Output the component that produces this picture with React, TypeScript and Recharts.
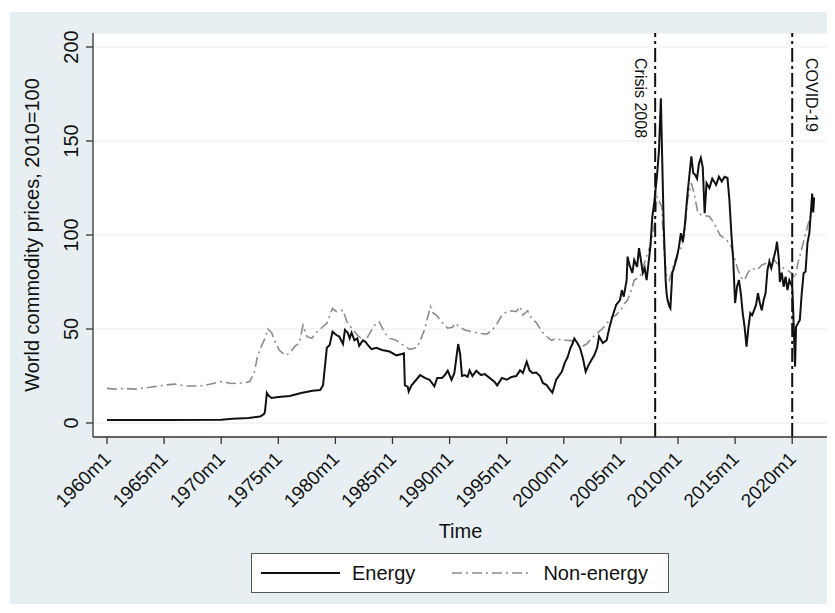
import { LineChart, Line, XAxis, YAxis, CartesianGrid, ReferenceLine, Legend } from "recharts";

const FONT = '"Liberation Sans", Arial, Helvetica, sans-serif';
const INK = "#111";
const PANEL = "#e8eff2";

const xTickLabels = [
  "1960m1", "1965m1", "1970m1", "1975m1", "1980m1", "1985m1", "1990m1",
  "1995m1", "2000m1", "2005m1", "2010m1", "2015m1", "2020m1",
];
const yTicks = [0, 50, 100, 150, 200];

const events: [string, string][] = [
  ["2008m1", "Crisis 2008"],
  ["2020m1", "COVID-19"],
];

// World Bank commodity price indices, 2010=100
const energy: [string, number][] = [
  ["1960m1", 1.6], ["1965m1", 1.6], ["1970m1", 1.7], ["1971m1", 2.2], ["1972m6", 2.7],
  ["1973m6", 3.5], ["1973m10", 4.8], ["1973m11", 6], ["1974m1", 16], ["1974m3", 14.5],
  ["1974m6", 13.3], ["1975m1", 13.8], ["1976m1", 14.4], ["1977m1", 16], ["1978m1", 17.2],
  ["1978m9", 17.5], ["1978m12", 20], ["1979m4", 40], ["1979m7", 41.5], ["1979m10", 48.6],
  ["1980m2", 46.8], ["1980m5", 46], ["1980m9", 42], ["1980m11", 49.5], ["1981m2", 48],
  ["1981m4", 45], ["1981m6", 48], ["1981m9", 44], ["1981m12", 45], ["1982m2", 41],
  ["1982m6", 44], ["1982m9", 43], ["1982m11", 41.5], ["1983m3", 39.3], ["1983m8", 40],
  ["1984m2", 38.8], ["1984m10", 38], ["1985m5", 36], ["1985m11", 36.7], ["1986m1", 37],
  ["1986m2", 20], ["1986m5", 19.3], ["1986m6", 16.7], ["1986m9", 20], ["1987m2", 23],
  ["1987m6", 25.5], ["1987m11", 24], ["1988m4", 23], ["1988m9", 19.5], ["1988m12", 24],
  ["1989m5", 24], ["1989m8", 25.5], ["1989m11", 27.8], ["1990m3", 22.9], ["1990m6", 26.6],
  ["1990m10", 42], ["1990m12", 37], ["1991m2", 25], ["1991m5", 25.5], ["1991m8", 24.6],
  ["1991m10", 28], ["1992m1", 25], ["1992m5", 27.8], ["1992m10", 25.5], ["1993m2", 26],
  ["1993m7", 24], ["1993m12", 22], ["1994m3", 20], ["1994m8", 24], ["1995m1", 23],
  ["1995m6", 24.5], ["1995m11", 25], ["1996m3", 28], ["1996m6", 26.6], ["1996m10", 32.6],
  ["1997m1", 28], ["1997m4", 26.6], ["1997m8", 26.8], ["1997m12", 25], ["1998m3", 21.3],
  ["1998m7", 20.2], ["1998m10", 18], ["1999m1", 16.1], ["1999m5", 23], ["1999m11", 27.3],
  ["2000m2", 32], ["2000m5", 35], ["2000m8", 40], ["2000m10", 42], ["2000m12", 45],
  ["2001m3", 42.7], ["2001m6", 40], ["2001m9", 34.6], ["2001m12", 27.3], ["2002m3", 30.8],
  ["2002m6", 33.5], ["2002m9", 36], ["2002m12", 40], ["2003m2", 46], ["2003m6", 42.5],
  ["2003m10", 44], ["2004m1", 51], ["2004m4", 56.5], ["2004m8", 62.8], ["2004m12", 65.4],
  ["2005m2", 70.7], ["2005m4", 67.2], ["2005m7", 76], ["2005m8", 88.5], ["2005m10", 84],
  ["2006m1", 79.8], ["2006m3", 86.7], ["2006m6", 83], ["2006m8", 93], ["2006m10", 86.7],
  ["2006m12", 79.8], ["2007m2", 82.4], ["2007m4", 76], ["2007m6", 85], ["2007m8", 93.8],
  ["2007m10", 109.8], ["2007m12", 117], ["2008m3", 132], ["2008m5", 145], ["2008m7", 172.7],
  ["2008m8", 149], ["2008m10", 104.5], ["2008m12", 76], ["2009m1", 69], ["2009m2", 65.4],
  ["2009m4", 61.9], ["2009m5", 61], ["2009m7", 79.8], ["2009m9", 83], ["2009m12", 88.5],
  ["2010m2", 93.8], ["2010m4", 101], ["2010m6", 96.4], ["2010m8", 104.4], ["2010m11", 122],
  ["2011m3", 141.8], ["2011m5", 133], ["2011m7", 132], ["2011m9", 130], ["2011m11", 138],
  ["2012m1", 141], ["2012m3", 136], ["2012m5", 111.6], ["2012m7", 127.6], ["2012m10", 125],
  ["2013m1", 130], ["2013m5", 126.6], ["2013m8", 131], ["2013m11", 128.4], ["2014m2", 131],
  ["2014m5", 130.3], ["2014m7", 118.6], ["2014m9", 101], ["2014m11", 86.7], ["2015m1", 63.8],
  ["2015m3", 72.5], ["2015m5", 76], ["2015m7", 69], ["2015m9", 58.5], ["2015m11", 51],
  ["2016m1", 40.6], ["2016m3", 51], ["2016m5", 58.5], ["2016m7", 57.4], ["2016m11", 62.8],
  ["2017m1", 69], ["2017m3", 63.8], ["2017m5", 60], ["2017m7", 65.4], ["2017m9", 69],
  ["2017m11", 81.4], ["2018m1", 85.8], ["2018m3", 82.4], ["2018m6", 88.5], ["2018m8", 93],
  ["2018m9", 96.4], ["2018m11", 86.7], ["2018m12", 75], ["2019m2", 80], ["2019m4", 72.5],
  ["2019m6", 77.8], ["2019m8", 70.7], ["2019m10", 76], ["2020m1", 72.5], ["2020m2", 60],
  ["2020m3", 45], ["2020m4", 30], ["2020m5", 51], ["2020m7", 53], ["2020m9", 54.8],
  ["2020m11", 69], ["2021m1", 79.8], ["2021m3", 80.5], ["2021m5", 95.7], ["2021m7", 101],
  ["2021m9", 115], ["2021m10", 122], ["2021m11", 112], ["2021m12", 120],
];

const nonEnergy: [string, number][] = [
  ["1960m1", 18.4], ["1960m9", 18], ["1961m7", 18.4], ["1962m6", 18], ["1963m10", 19],
  ["1965m2", 20.2], ["1965m12", 20.7], ["1966m11", 19.7], ["1968m3", 19.7], ["1969m1", 20.6],
  ["1970m1", 22], ["1970m12", 21], ["1972m2", 21.4], ["1972m7", 22], ["1972m12", 27.3],
  ["1973m3", 35], ["1973m7", 40.6], ["1973m11", 45], ["1974m2", 50], ["1974m6", 48],
  ["1974m9", 44], ["1975m2", 38.8], ["1975m8", 36], ["1976m1", 37], ["1976m6", 40.6],
  ["1976m11", 42.5], ["1977m3", 52], ["1977m7", 46], ["1977m12", 45], ["1978m6", 48.6],
  ["1978m10", 50.4], ["1979m4", 53], ["1979m10", 61], ["1980m2", 59.2], ["1980m9", 60],
  ["1981m1", 53.9], ["1981m6", 50.4], ["1981m12", 46.8], ["1982m8", 43.2], ["1983m1", 47.7],
  ["1983m6", 52], ["1983m11", 53.9], ["1984m5", 47.7], ["1984m10", 45], ["1985m5", 44],
  ["1985m12", 41.5], ["1986m7", 39.2], ["1987m3", 40.2], ["1987m11", 50], ["1988m2", 56.5],
  ["1988m5", 61.9], ["1988m8", 58.3], ["1988m11", 57.4], ["1989m3", 54.8], ["1989m6", 53],
  ["1989m11", 50.4], ["1990m4", 50.9], ["1990m7", 53], ["1990m12", 50.9], ["1991m5", 49.5],
  ["1991m12", 48.6], ["1992m8", 47.7], ["1993m4", 47.3], ["1993m10", 49.5], ["1994m3", 53],
  ["1994m8", 57.4], ["1995m1", 59.2], ["1995m6", 59.7], ["1995m11", 59.2], ["1996m3", 61.9],
  ["1996m6", 57.4], ["1996m11", 59.7], ["1997m3", 55.7], ["1997m8", 53.4], ["1998m2", 48.6],
  ["1998m7", 46], ["1998m12", 44], ["1999m5", 45], ["1999m11", 44], ["2000m4", 44],
  ["2000m9", 43.8], ["2001m3", 42.4], ["2001m8", 40.6], ["2002m1", 42], ["2002m6", 45],
  ["2002m12", 47.7], ["2003m6", 50.4], ["2004m1", 54.8], ["2004m4", 56.5], ["2004m8", 57.4],
  ["2005m2", 61], ["2005m5", 63.7], ["2005m8", 65.4], ["2005m12", 70.7], ["2006m3", 76],
  ["2006m9", 77.8], ["2007m4", 88.5], ["2007m9", 96.4], ["2008m1", 108], ["2008m3", 120.4],
  ["2008m8", 115], ["2008m9", 104.5], ["2008m11", 86.7], ["2009m1", 77.8], ["2009m4", 76],
  ["2009m9", 85], ["2010m1", 91], ["2010m5", 93.8], ["2010m8", 101], ["2010m11", 118.6],
  ["2011m3", 127.5], ["2011m6", 122], ["2011m10", 111.4], ["2012m3", 110.5], ["2012m10", 109.8],
  ["2013m3", 106.2], ["2013m9", 100], ["2014m4", 97.3], ["2014m9", 93.8], ["2015m1", 86.7],
  ["2015m4", 81.4], ["2015m8", 77], ["2015m11", 76], ["2016m2", 79.6], ["2016m6", 82.3],
  ["2016m12", 81.4], ["2017m5", 84], ["2017m10", 85], ["2018m3", 88.5], ["2018m9", 85],
  ["2019m2", 83], ["2019m7", 81.4], ["2020m1", 79.6], ["2020m4", 77], ["2020m7", 85],
  ["2020m12", 94.7], ["2021m5", 104.5], ["2021m11", 115], ["2021m12", 117],
];

// Stata-style "1975m1" -> months since 1960m1
const monthIndex = (s: string) => {
  const [y, m] = s.split("m").map(Number);
  return (y - 1960) * 12 + (m - 1);
};
const toRows = (pts: [string, number][]) => pts.map(([d, v]) => ({ t: monthIndex(d), v }));

const energyRows = toRows(energy);
const nonEnergyRows = toRows(nonEnergy);
const xTickValues = xTickLabels.map(monthIndex);

const seriesStyle: Record<string, { stroke: string; dash?: string; width: number }> = {
  Energy: { stroke: INK, width: 2 },
  "Non-energy": { stroke: "#8c8c8c", dash: "10 4 2 4", width: 1.6 },
};

function XTick({ x, y, payload }: any) {
  const label = xTickLabels[xTickValues.indexOf(payload.value)];
  return (
    <text
      transform={`translate(${x + 5},${y + 16}) rotate(-45)`}
      textAnchor="end"
      fontSize={19}
      fontFamily={FONT}
      fill={INK}
    >
      {label}
    </text>
  );
}

function YTick({ x, y, payload }: any) {
  return (
    <text
      transform={`translate(${x - 8},${y}) rotate(-90)`}
      textAnchor="middle"
      fontSize={20}
      fontFamily={FONT}
      fill={INK}
    >
      {payload.value}
    </text>
  );
}

function renderLegend({ payload }: any) {
  return (
    <div
      style={{
        boxSizing: "border-box",
        width: 418,
        height: 40,
        background: "#fff",
        border: "1px solid #555",
        display: "flex",
        alignItems: "center",
        fontFamily: FONT,
        fontSize: 20,
        color: INK,
      }}
    >
      {(payload || []).map((entry: any, i: number) => {
        const s = seriesStyle[entry.value];
        return (
          <div key={entry.value} style={{ display: "flex", alignItems: "center", marginLeft: i === 0 ? 9 : 37 }}>
            <svg width={79} height={6}>
              <line x1={0} y1={3} x2={79} y2={3} stroke={s.stroke} strokeWidth={s.width} strokeDasharray={s.dash} />
            </svg>
            <span style={{ marginLeft: 12 }}>{entry.value}</span>
          </div>
        );
      })}
    </div>
  );
}

export default function App() {
  return (
    <div style={{ position: "relative", width: 827, height: 605, fontFamily: FONT }}>
      <div style={{ position: "absolute", left: 2, top: 4, width: 825, height: 592, background: PANEL }} />
      <div style={{ position: "absolute", left: 0, top: 0 }}>
        <LineChart width={827} height={605} margin={{ top: 25, right: 7, bottom: 0, left: 0 }}>
          <CartesianGrid vertical={false} stroke="#e6edf0" strokeWidth={1.2} fill="#fff" fillOpacity={1} />
          <XAxis
            type="number"
            dataKey="t"
            domain={[-14.7, 757.6]}
            allowDataOverflow
            ticks={xTickValues}
            interval={0}
            height={176}
            tickSize={7}
            tickMargin={0}
            tick={<XTick />}
            stroke="#333"
            strokeWidth={1.3}
            label={{
              content: ({ viewBox }: any) => (
                <text
                  x={viewBox.x + viewBox.width / 2}
                  y={viewBox.y + 101}
                  textAnchor="middle"
                  fontSize={20}
                  fontFamily={FONT}
                  fill={INK}
                >
                  Time
                </text>
              ),
            }}
          />
          <YAxis
            type="number"
            domain={[-7.45, 207.45]}
            allowDataOverflow
            ticks={yTicks}
            width={85}
            tickSize={7}
            tickMargin={0}
            tick={<YTick />}
            stroke="#333"
            strokeWidth={1.3}
            label={{
              content: ({ viewBox }: any) => {
                const cy = viewBox.y + viewBox.height / 2;
                return (
                  <text
                    transform={`translate(${viewBox.x + 31},${cy}) rotate(-90)`}
                    textAnchor="middle"
                    fontSize={20}
                    fontFamily={FONT}
                    fill={INK}
                  >
                    World commodity prices, 2010=100
                  </text>
                );
              },
            }}
          />
          <Line
            data={nonEnergyRows}
            dataKey="v"
            name="Non-energy"
            type="linear"
            stroke={seriesStyle["Non-energy"].stroke}
            strokeWidth={seriesStyle["Non-energy"].width}
            strokeDasharray={seriesStyle["Non-energy"].dash}
            dot={false}
            activeDot={false}
            isAnimationActive={false}
          />
          <Line
            data={energyRows}
            dataKey="v"
            name="Energy"
            type="linear"
            stroke={seriesStyle.Energy.stroke}
            strokeWidth={seriesStyle.Energy.width}
            dot={false}
            activeDot={false}
            isAnimationActive={false}
          />
          {events.map(([date, text], i) => (
            <ReferenceLine
              key={text}
              x={monthIndex(date)}
              stroke={INK}
              strokeWidth={2}
              strokeDasharray="14 4 3 4"
              label={{
                content: ({ viewBox }: any) => {
                  const cx = viewBox.x + (i === 0 ? -15 : 19);
                  const cy = viewBox.y + 25;
                  return (
                    <text
                      transform={`translate(${cx},${cy}) rotate(90)`}
                      textAnchor="start"
                      dominantBaseline="central"
                      fontSize={16}
                      fontFamily={FONT}
                      fill={INK}
                    >
                      {text}
                    </text>
                  );
                },
              }}
            />
          ))}
          <Legend
            layout="horizontal"
            verticalAlign="middle"
            align="center"
            content={renderLegend}
            wrapperStyle={{ left: 243, top: 545, width: 418, height: 40 }}
          />
        </LineChart>
      </div>
    </div>
  );
}
